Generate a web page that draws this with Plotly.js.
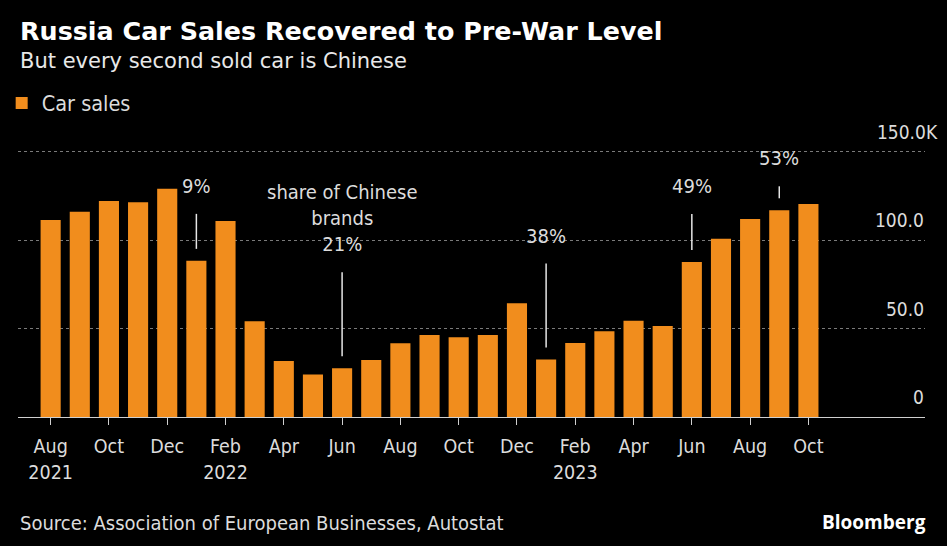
<!DOCTYPE html>
<html>
<head>
<meta charset="utf-8">
<script src="https://cdn.plot.ly/plotly-3.0.1.min.js"></script>
<style>
  html, body { margin: 0; padding: 0; background: #000; }
  #chart { width: 947px; height: 546px; }
</style>
</head>
<body>
<div id="chart"></div>
<script>
// ---- Data (car sales, thousands of units) ----
const months = ["2021-08","2021-09","2021-10","2021-11","2021-12",
  "2022-01","2022-02","2022-03","2022-04","2022-05","2022-06","2022-07","2022-08","2022-09","2022-10","2022-11","2022-12",
  "2023-01","2023-02","2023-03","2023-04","2023-05","2023-06","2023-07","2023-08","2023-09","2023-10"];
const sales = [111.4,116.1,122.1,121.4,129.1,
  88.3,110.8,54.2,31.7,24.0,27.6,32.3,41.7,46.4,45.1,46.4,64.4,
  32.5,41.9,48.5,54.4,51.5,87.6,100.8,112.0,116.9,120.5];

const xTickVals = ["2021-08","2021-10","2021-12","2022-02","2022-04","2022-06","2022-08","2022-10","2022-12","2023-02","2023-04","2023-06","2023-08","2023-10"];
const xTickText = ["Aug<br>2021","Oct","Dec","Feb<br>2022","Apr","Jun","Aug","Oct","Dec","Feb<br>2023","Apr","Jun","Aug","Oct"];

const yTickVals = [0, 50, 100, 150];
const yTickText = ["0", "50.0", "100.0", "150.0K"];

// Share of Chinese brands callouts
const shareMonths = ["2022-01","2022-06","2023-01","2023-06","2023-09"];
const shareLabels = ["9%","share of Chinese<br>brands<br>21%","38%","49%","53%"];

// ---- Styling ----
const ORANGE = "#f18d1d";
const TXT = "#dcdcdc";
const COND = "DejaVu Sans Condensed, DejaVu Sans, sans-serif";
const leaderLen = [35, 84, 84, 36, 12];   // callout leader lengths (px)
const leaderGap = 12;                      // gap above bar (px)

const valueOf = m => sales[months.indexOf(m)];

const shapes = shareMonths.map((m, i) => ({
  type: "line", xref: "x", yref: "y", ysizemode: "pixel",
  yanchor: valueOf(m), x0: m, x1: m,
  y0: leaderGap, y1: leaderGap + leaderLen[i],
  line: { color: "#e6e6e6", width: 1.5 }
}));

const annotations = [];
shareMonths.forEach((m, i) => {
  annotations.push({
    xref: "x", yref: "y", x: m, y: valueOf(m),
    yshift: leaderGap + leaderLen[i] + 14,
    yanchor: "bottom", xanchor: "center", showarrow: false,
    text: shareLabels[i], align: "center",
    font: { family: COND, size: 20, color: TXT }
  });
});

// y tick labels (placed above the gridlines, right side)
yTickVals.forEach((v, i) => {
  const isTop = i === yTickVals.length - 1;
  annotations.push({
    xref: "paper", yref: "y", x: isTop ? 1.0165 : 1.0013, y: v,
    yshift: 7, yanchor: "bottom", xanchor: "right", showarrow: false,
    text: yTickText[i],
    font: { family: COND, size: 19, color: TXT }
  });
});

// Titles and footer
annotations.push(
  { xref: "paper", yref: "paper", x: 0, y: 1.446, xanchor: "left", yanchor: "middle", showarrow: false,
    text: "<b>Russia Car Sales Recovered to Pre-War Level</b>",
    font: { family: "DejaVu Sans, sans-serif", size: 25.4, color: "#ffffff" } },
  { xref: "paper", yref: "paper", x: 0, y: 1.333, xanchor: "left", yanchor: "middle", showarrow: false,
    text: "But every second sold car is Chinese",
    font: { family: "DejaVu Sans, sans-serif", size: 21, color: "#e8e8e8" } },
  { xref: "paper", yref: "paper", x: 0, y: -0.397, xanchor: "left", yanchor: "middle", showarrow: false,
    text: "Source: Association of European Businesses, Autostat",
    font: { family: COND, size: 20, color: TXT } },
  { xref: "paper", yref: "paper", x: 1.0033, y: -0.392, xanchor: "right", yanchor: "middle", showarrow: false,
    text: "<b>Bloomberg</b>",
    font: { family: "Open Sans, DejaVu Sans, sans-serif", size: 19, color: "#ffffff" } }
);

const data = [{
  type: "bar", x: months, y: sales, name: "Car sales",
  marker: { color: ORANGE, line: { width: 0 } },
  hoverinfo: "x+y"
}];

const layout = {
  width: 947, height: 546,
  paper_bgcolor: "#000", plot_bgcolor: "#000",
  margin: { l: 18, r: 22, t: 150, b: 129, autoexpand: false },
  bargap: 0.31,
  showlegend: true,
  legend: {
    x: -0.018, y: 1.176, xref: "paper", yref: "paper", xanchor: "left", yanchor: "middle",
    orientation: "h", bgcolor: "rgba(0,0,0,0)",
    font: { family: COND, size: 21.5, color: TXT }
  },
  xaxis: {
    type: "category", range: [-1.12, 30.0],
    tickmode: "array", tickvals: xTickVals, ticktext: xTickText,
    ticks: "outside", ticklen: 7, tickwidth: 1, tickcolor: "#d0d0d0",
    ticklabelstandoff: 5,
    showline: true, linecolor: "#d0d0d0", linewidth: 1,
    showgrid: false, zeroline: false,
    tickfont: { family: COND, size: 19.5, color: TXT },
    fixedrange: true
  },
  yaxis: {
    range: [0, 151], side: "right",
    tickmode: "array", tickvals: yTickVals,
    showticklabels: false, ticks: "",
    showgrid: true, gridcolor: "#7a7a7a", gridwidth: 1, griddash: "3px,3px",
    zeroline: false, showline: false, fixedrange: true
  },
  shapes: shapes,
  annotations: annotations
};

Plotly.newPlot("chart", data, layout, { displayModeBar: false, staticPlot: true });
</script>
</body>
</html>
